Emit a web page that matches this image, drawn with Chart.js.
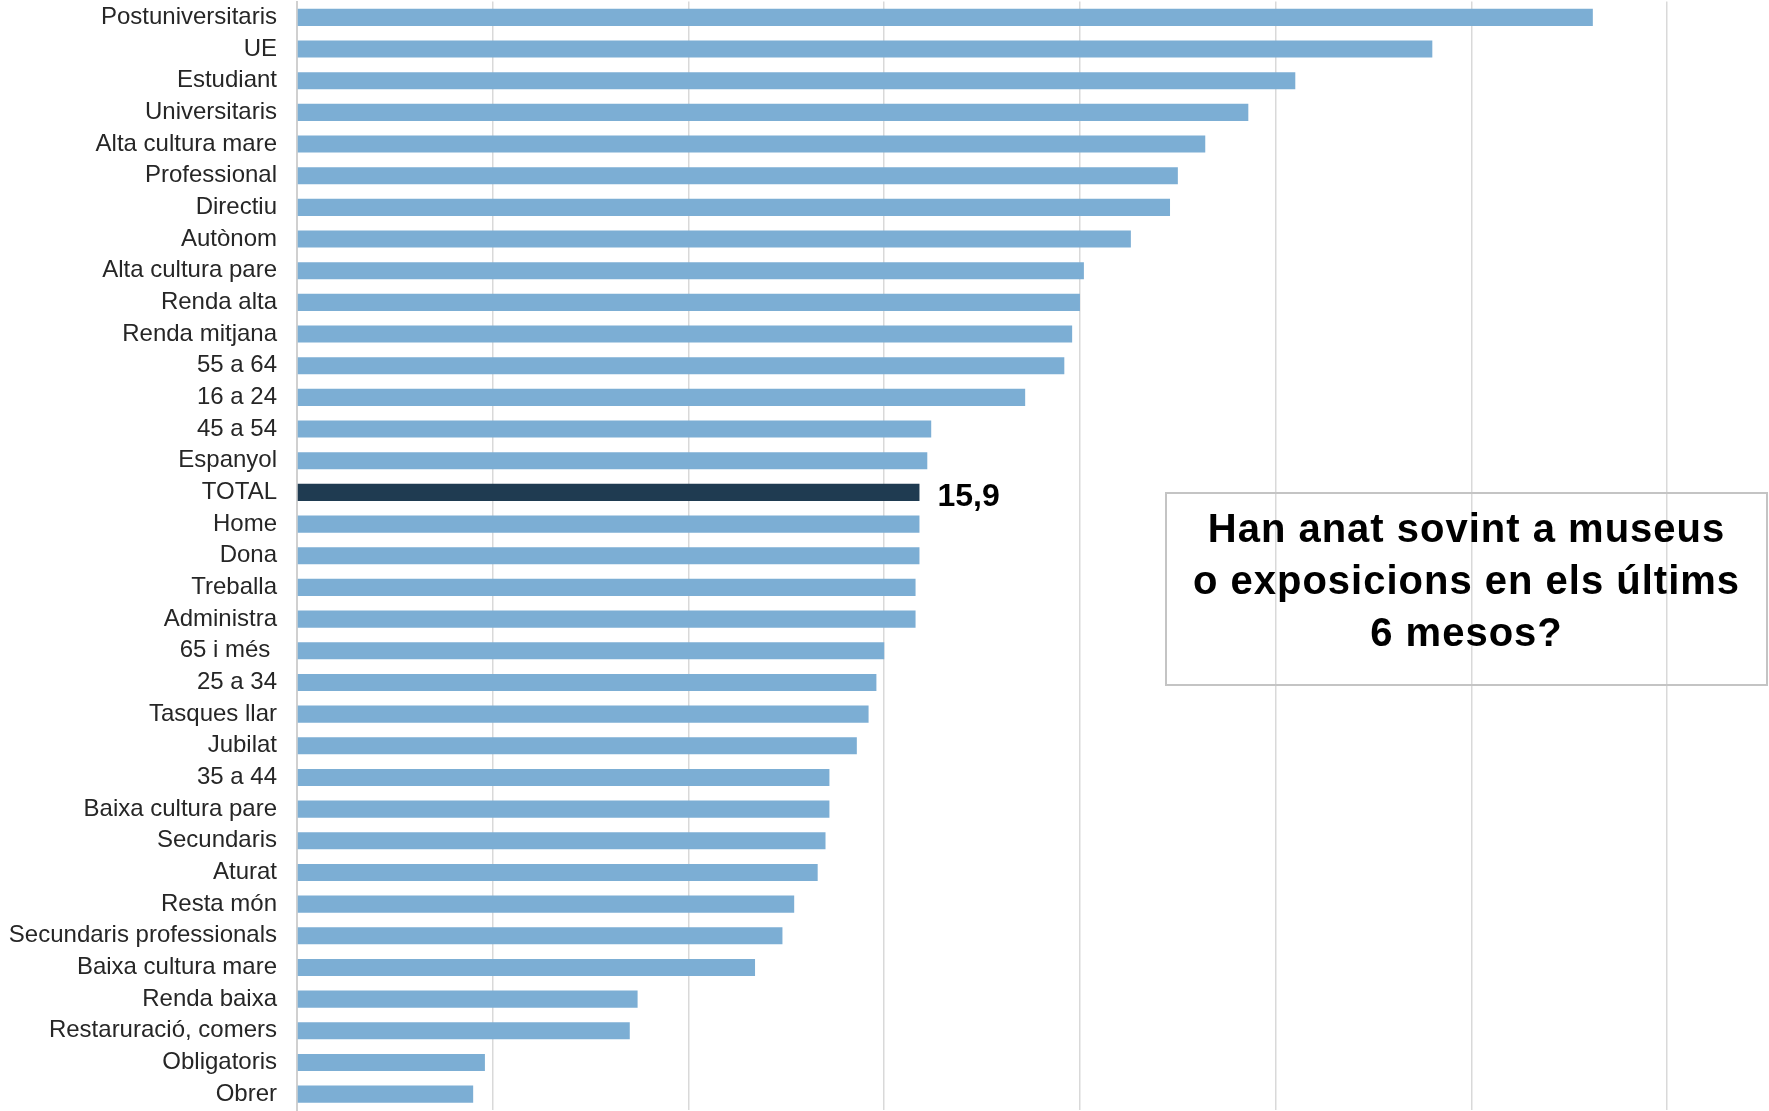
<!DOCTYPE html>
<html>
<head>
<meta charset="utf-8">
<script src="https://cdn.jsdelivr.net/npm/chart.js@4"></script>
<style>
  html, body { margin: 0; padding: 0; background: #fff; overflow: hidden; }
  #wrap { width: 1769px; height: 1111px; position: relative; }
</style>
</head>
<body>
<div id="wrap"><canvas id="barne"></canvas></div>
<script>
const labels = ['Postuniversitaris','UE','Estudiant','Universitaris','Alta cultura mare','Professional','Directiu','Autònom',
    'Alta cultura pare','Renda alta','Renda mitjana','55 a 64','16 a 24','45 a 54','Espanyol','TOTAL','Home','Dona',
    'Treballa','Administra','65 i més ','25 a 34','Tasques llar','Jubilat','35 a 44','Baixa cultura pare','Secundaris',
    'Aturat','Resta món','Secundaris professionals','Baixa cultura mare','Renda baixa','Restaruració, comers','Obligatoris','Obrer']
const values = [33.1, 29.0, 25.5, 24.3, 23.2, 22.5, 22.3, 21.3,
    20.1, 20.0, 19.8, 19.6, 18.6, 16.2, 16.1, 15.9, 15.9, 15.9,
    15.8, 15.8, 15.0, 14.8, 14.6, 14.3, 13.6, 13.6, 13.5,
    13.3, 12.7, 12.4, 11.7, 8.7, 8.5, 4.8, 4.5]
const xTicks = [0, 5, 10, 15, 20, 25, 30, 35]
const titleLines = ['Han anat sovint a museus', 'o exposicions en els últims', '6 mesos?']

const light = '#7CAED4'
const dark = '#1F3B51'

// etiqueta del TOTAL
const totalLabel = {
    id: 'totalLabel',
    afterDatasetsDraw(chart) {
        const i = labels.indexOf('TOTAL')
        const bar = chart.getDatasetMeta(0).data[i]
        const c = chart.ctx
        c.save()
        c.font = 'bold 32px "Liberation Sans", Arial, sans-serif'
        c.fillStyle = '#000'
        c.textAlign = 'left'
        c.textBaseline = 'middle'
        c.fillText(values[i].toFixed(1).replace('.', ','), bar.x + 18, bar.y + 5)
        c.restore()
    }
}

// quadre amb el títol
const titleBox = {
    id: 'titleBox',
    afterDraw(chart) {
        const c = chart.ctx
        const x0 = 1166, y0 = 493, w = 601, h = 192
        c.save()
        c.strokeStyle = '#c4c4c4'
        c.lineWidth = 2
        c.strokeRect(x0, y0, w, h)
        c.font = 'bold 40px "Liberation Sans", Arial, sans-serif'
        c.letterSpacing = '1px'
        c.fillStyle = '#000'
        c.textAlign = 'center'
        c.textBaseline = 'middle'
        titleLines.forEach((t, k) => c.fillText(t, x0 + w / 2, 531 + k * 52))
        c.restore()
    }
}

const config = {
    type: 'bar',
    data: {
        labels: labels,
        datasets: [{
            data: values,
            backgroundColor: ctx => labels[ctx.dataIndex] === 'TOTAL' ? dark : light,
            barPercentage: 0.54,
            categoryPercentage: 1,
        }]
    },
    options: {
        indexAxis: 'y',
        responsive: true,
        maintainAspectRatio: false,
        animation: false,
        layout: { padding: { top: 1.5, bottom: 1, left: 0, right: 0 } },
        plugins: { legend: { display: false }, tooltip: { enabled: false } },
        scales: {
            x: {
                min: 0,
                max: 37.6,
                afterBuildTicks: s => { s.ticks = xTicks.map(v => ({ value: v })) },
                afterFit: s => { s.height = 0; s.paddingLeft = 0; s.paddingRight = 0 },
                ticks: { display: false },
                grid: { color: '#d9d9d9', lineWidth: 1.5, drawTicks: false },
                border: { display: false }
            },
            y: {
                afterFit: s => { s.width = 297; s.paddingTop = 0; s.paddingBottom = 0 },
                ticks: {
                    autoSkip: false,
                    padding: 20,
                    color: '#262626',
                    font: { family: '"Liberation Sans", Arial, sans-serif', size: 24 }
                },
                grid: { display: false, drawTicks: false },
                border: { display: true, color: '#d0d0d0', width: 2 }
            }
        }
    },
    plugins: [totalLabel, titleBox]
}
const barne = document.getElementById('barne')
const chart = new Chart(barne, config)
</script>
</body>
</html>
